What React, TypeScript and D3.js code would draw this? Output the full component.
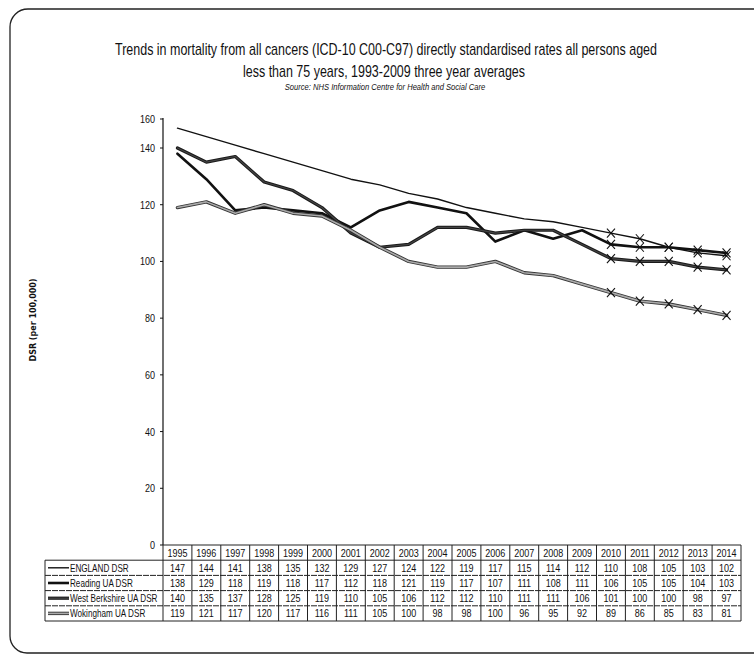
import React from "react";
import * as d3 from "d3";

// Three-year average DSR per 100,000, persons aged under 75
const years = ["1995", "1996", "1997", "1998", "1999", "2000", "2001", "2002", "2003", "2004", "2005", "2006", "2007", "2008", "2009", "2010", "2011", "2012", "2013", "2014"];
const england = [147, 144, 141, 138, 135, 132, 129, 127, 124, 122, 119, 117, 115, 114, 112, 110, 108, 105, 103, 102];
const reading = [138, 129, 118, 119, 118, 117, 112, 118, 121, 119, 117, 107, 111, 108, 111, 106, 105, 105, 104, 103];
const westBerkshire = [140, 135, 137, 128, 125, 119, 110, 105, 106, 112, 112, 110, 111, 111, 106, 101, 100, 100, 98, 97];
const wokingham = [119, 121, 117, 120, 117, 116, 111, 105, 100, 98, 98, 100, 96, 95, 92, 89, 86, 85, 83, 81];
const seriesNames = ["ENGLAND DSR", "Reading UA DSR", "West Berkshire UA DSR", "Wokingham UA DSR"];
const projectedFrom = "2010";
const yTicks = [0, 20, 40, 60, 80, 100, 120, 140, 160];

const titleLines = [
  "Trends in mortality from all cancers (ICD-10 C00-C97) directly standardised rates all persons aged",
  "less than 75 years, 1993-2009 three year averages",
];
const sourceText = "Source: NHS Information Centre for Health and Social Care";
const yTitle = "DSR (per 100,000)";

const W = 754;
const H = 654;
const plotLeft = 163;
const plotRight = 741;
const plotBottom = 545;
const axisTop = 118;
const rowH = 15.2;
const tableLeft = 45;

const sans = "'Liberation Sans', Arial, sans-serif";

type Style = { outer: string; outerW: number; inner?: string; innerW?: number };
const styles: Style[] = [
  { outer: "#111", outerW: 1.4 },
  { outer: "#111", outerW: 2.6 },
  { outer: "#1a1a1a", outerW: 3.2, inner: "#444", innerW: 1.2 },
  { outer: "#333", outerW: 3.4, inner: "#aaa", innerW: 1.6 },
];

// Horizontally condensed text, standing in for a narrow typeface
function NText(props: {
  x: number;
  y: number;
  size: number;
  sx?: number;
  anchor?: "start" | "middle" | "end";
  italic?: boolean;
  children: React.ReactNode;
}) {
  const { x, y, size, sx = 0.82, anchor = "start", italic, children } = props;
  return (
    <text
      transform={`translate(${x},${y}) scale(${sx},1)`}
      textAnchor={anchor}
      fontFamily={sans}
      fontSize={size}
      fontStyle={italic ? "italic" : undefined}
      fill="#111"
    >
      {children}
    </text>
  );
}

export default function App() {
  const series = [england, reading, westBerkshire, wokingham];

  const x = d3.scaleBand<string>().domain(years).range([plotLeft, plotRight]);
  const bw = x.bandwidth();
  const cx = (yr: string) => (x(yr) as number) + bw / 2;
  const y = d3.scaleLinear().domain([0, 140]).range([plotBottom, 148]);

  const line = d3
    .line<number>()
    .x((_, i) => cx(years[i]))
    .y((d) => y(d));

  const projIdx = years.indexOf(projectedFrom);
  const headerTop = plotBottom;
  const tableBottom = headerTop + rowH * 5;

  return (
    <svg
      width={W}
      height={H}
      style={{ position: "absolute", left: 0, top: 0, background: "#fff" }}
    >
      {/* rounded chart frame, running off the right and bottom edges */}
      <path
        d="M770,9 L28,9 A18,18 0 0 0 10,27 L10,636 A17,17 0 0 0 27,653 L770,653"
        fill="none"
        stroke="#222"
        strokeWidth={1.3}
      />

      {/* titles */}
      <NText x={386} y={55} size={16} sx={0.78} anchor="middle">
        {titleLines[0]}
      </NText>
      <NText x={384} y={77} size={16} sx={0.78} anchor="middle">
        {titleLines[1]}
      </NText>
      <NText x={385} y={90} size={9.5} sx={0.8} anchor="middle" italic>
        {sourceText}
      </NText>

      {/* y axis */}
      <line x1={plotLeft} x2={plotLeft} y1={axisTop} y2={plotBottom} stroke="#111" strokeWidth={1.2} />
      {yTicks.map((t) => {
        const ty = Math.max(y(t), axisTop + 1);
        return (
          <g key={t}>
            <line x1={plotLeft - 3} x2={plotLeft} y1={ty} y2={ty} stroke="#111" strokeWidth={1} />
            <NText x={155} y={ty + 4} size={11} sx={0.82} anchor="end">
              {t}
            </NText>
          </g>
        );
      })}
      <text
        transform={`translate(36, 320) rotate(-90)`}
        textAnchor="middle"
        fontFamily="'DejaVu Sans', Verdana, sans-serif"
        fontWeight="bold"
        fontSize={8}
        fill="#111"
      >
        {yTitle}
      </text>

      {/* series lines */}
      {series.map((vals, s) => {
        const st = styles[s];
        const d = line(vals) || "";
        return (
          <g key={seriesNames[s]} fill="none" strokeLinejoin="round" strokeLinecap="round">
            <path d={d} stroke={st.outer} strokeWidth={st.outerW} />
            {st.inner && <path d={d} stroke={st.inner} strokeWidth={st.innerW} />}
          </g>
        );
      })}

      {/* projected-year markers */}
      {series.map((vals, s) =>
        vals.map((v, i) =>
          i >= projIdx ? (
            <g key={`${s}-${i}`} transform={`translate(${cx(years[i])},${y(v)})`} stroke="#111" strokeWidth={1.1}>
              <line x1={-4} y1={-4.5} x2={4} y2={4.5} />
              <line x1={-4} y1={4.5} x2={4} y2={-4.5} />
            </g>
          ) : null
        )
      )}

      {/* data table */}
      <g stroke="#222" strokeWidth={1}>
        <line x1={plotLeft} x2={plotRight} y1={headerTop} y2={headerTop} />
        <line x1={tableLeft} x2={plotRight} y1={headerTop + rowH} y2={headerTop + rowH} />
        {[2, 3, 4].map((r) => (
          <line key={r} x1={tableLeft} x2={plotRight} y1={headerTop + rowH * r} y2={headerTop + rowH * r} strokeDasharray="6 1" />
        ))}
        <line x1={tableLeft} x2={plotRight} y1={tableBottom} y2={tableBottom} />
        <line x1={tableLeft} x2={tableLeft} y1={headerTop + rowH} y2={tableBottom} />
        {years.map((yr) => (
          <line key={yr} x1={x(yr) as number} x2={x(yr) as number} y1={headerTop} y2={tableBottom} />
        ))}
        <line x1={plotRight} x2={plotRight} y1={headerTop} y2={tableBottom} />
      </g>
      {years.map((yr) => (
        <NText key={yr} x={cx(yr)} y={headerTop + rowH / 2 + 4} size={11} anchor="middle">
          {yr}
        </NText>
      ))}
      {series.map((vals, s) => {
        const rowY = headerTop + rowH * (s + 1);
        const st = styles[s];
        return (
          <g key={seriesNames[s]}>
            <line x1={tableLeft + 3} x2={tableLeft + 24} y1={rowY + rowH / 2} y2={rowY + rowH / 2} stroke={st.outer} strokeWidth={st.outerW} />
            {st.inner && (
              <line x1={tableLeft + 3} x2={tableLeft + 24} y1={rowY + rowH / 2} y2={rowY + rowH / 2} stroke={st.inner} strokeWidth={st.innerW} />
            )}
            <NText x={tableLeft + 25} y={rowY + rowH / 2 + 4} size={11} sx={0.74}>
              {seriesNames[s]}
            </NText>
            {vals.map((v, i) => (
              <NText key={i} x={cx(years[i])} y={rowY + rowH / 2 + 4} size={11} anchor="middle">
                {v}
              </NText>
            ))}
          </g>
        );
      })}
    </svg>
  );
}
